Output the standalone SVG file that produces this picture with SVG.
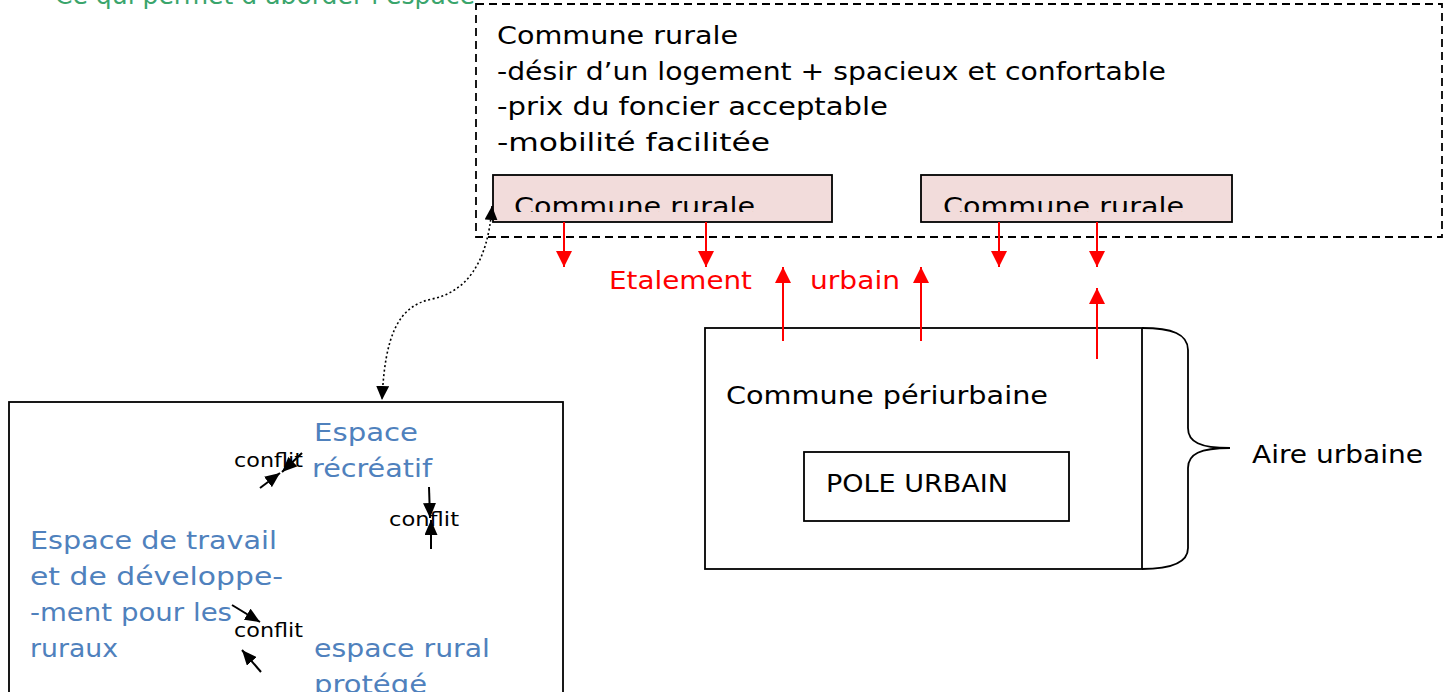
<svg xmlns="http://www.w3.org/2000/svg" width="1452" height="692" viewBox="0 0 1452 692">
  <style>
    text { font-family: "DejaVu Sans", "Liberation Sans", sans-serif; }
    .t { font-size: 25px; fill: #000; }
    .red { font-size: 25px; fill: #ff0000; }
    .blue { font-size: 25px; fill: #4f81bd; }
    .small { font-size: 19px; fill: #000; }
    .green { font-size: 25px; fill: #3aa56c; }
    .box { fill: #fff; stroke: #000; stroke-width: 1.8; }
    .pink { fill: #f2dcdb; stroke: #000; stroke-width: 1.8; }
    .dash { fill: none; stroke: #000; stroke-width: 1.8; stroke-dasharray: 8 5; }
    .rarrow { stroke: #ff0000; stroke-width: 2; fill: none; marker-end: url(#redHead); }
    .karrow { stroke: #000; stroke-width: 2; fill: none; marker-end: url(#blackHead); }
    .dotted { stroke: #000; stroke-width: 1.6; fill: none; stroke-dasharray: 2 2.5; marker-start: url(#dotStart); marker-end: url(#dotEnd); }
  </style>
  <defs>
    <marker id="redHead" viewBox="0 0 16 16" refX="16" refY="8" markerWidth="16" markerHeight="16" markerUnits="userSpaceOnUse" orient="auto">
      <path d="M0,0 L16,8 L0,16 z" fill="#ff0000"/>
    </marker>
    <marker id="blackHead" viewBox="0 0 15 13" refX="15" refY="6.5" markerWidth="15" markerHeight="13" markerUnits="userSpaceOnUse" orient="auto">
      <path d="M0,0 L15,6.5 L0,13 z" fill="#000"/>
    </marker>
    <marker id="dotEnd" viewBox="0 0 14 13" refX="14" refY="6.5" markerWidth="14" markerHeight="13" markerUnits="userSpaceOnUse" orient="auto">
      <path d="M0,0 L14,6.5 L0,13 z" fill="#000"/>
    </marker>
    <marker id="dotStart" viewBox="0 0 14 13" refX="0" refY="6.5" markerWidth="14" markerHeight="13" markerUnits="userSpaceOnUse" orient="auto">
      <path d="M14,0 L0,6.5 L14,13 z" fill="#000"/>
    </marker>
    <clipPath id="clipRural1"><rect x="494" y="176" width="337" height="36"/></clipPath>
    <clipPath id="clipRural2"><rect x="922" y="176" width="310" height="36"/></clipPath>
  </defs>

  <rect width="1452" height="692" fill="#fff"/>

  <!-- heading line running off the top edge -->
  <text class="green" x="55" y="4" textLength="420" lengthAdjust="spacingAndGlyphs">Ce qui permet d’aborder l’espace</text>

  <!-- rural commune frame -->
  <g id="rural-frame">
    <rect class="dash" x="476" y="4" width="966" height="233"/>
    <text class="t" x="497" y="44" textLength="241" lengthAdjust="spacingAndGlyphs">Commune rurale</text>
    <text class="t" x="497" y="80" textLength="669" lengthAdjust="spacingAndGlyphs">-désir d’un logement + spacieux et confortable</text>
    <text class="t" x="497" y="115" textLength="391" lengthAdjust="spacingAndGlyphs">-prix du foncier acceptable</text>
    <text class="t" x="497" y="151" textLength="273" lengthAdjust="spacingAndGlyphs">-mobilité facilitée</text>
  </g>

  <g id="rural-1">
    <rect class="pink" x="493" y="175" width="339" height="47"/>
    <text class="t" x="514" y="215" textLength="241" lengthAdjust="spacingAndGlyphs" clip-path="url(#clipRural1)">Commune rurale</text>
  </g>

  <g id="rural-2">
    <rect class="pink" x="921" y="175" width="311" height="47"/>
    <text class="t" x="943" y="215" textLength="241" lengthAdjust="spacingAndGlyphs" clip-path="url(#clipRural2)">Commune rurale</text>
  </g>

  <g id="sprawl-label">
    <text class="red" x="609" y="289" textLength="143" lengthAdjust="spacingAndGlyphs">Etalement</text>
    <text class="red" x="810" y="289" textLength="90" lengthAdjust="spacingAndGlyphs">urbain</text>
  </g>

  <g id="periurban">
    <rect class="box" x="705" y="328" width="437" height="241"/>
    <text class="t" x="726" y="404" textLength="322" lengthAdjust="spacingAndGlyphs">Commune périurbaine</text>
  </g>

  <g id="pole">
    <rect class="box" x="804" y="452" width="265" height="69"/>
    <text class="t" x="826" y="492" textLength="182" lengthAdjust="spacingAndGlyphs">POLE URBAIN</text>
  </g>

  <g id="aire-urbaine">
    <path d="M1142,328 C1172,328 1188,334 1188,350 L1188,428 C1188,442 1200,448 1230,448 C1200,448 1188,454 1188,468 L1188,548 C1188,562 1172,569 1142,569" fill="none" stroke="#000" stroke-width="1.8"/>
    <text class="t" x="1252" y="463" textLength="171" lengthAdjust="spacingAndGlyphs">Aire urbaine</text>
  </g>

  <g id="rural-space">
    <rect class="box" x="9" y="402" width="554" height="300"/>
    <text class="blue" x="314" y="441" textLength="104" lengthAdjust="spacingAndGlyphs">Espace</text>
    <text class="blue" x="312" y="477" textLength="120" lengthAdjust="spacingAndGlyphs">récréatif</text>
    <text class="blue" x="30" y="549" textLength="247" lengthAdjust="spacingAndGlyphs">Espace de travail</text>
    <text class="blue" x="30" y="585" textLength="253" lengthAdjust="spacingAndGlyphs">et de développe-</text>
    <text class="blue" x="30" y="621" textLength="202" lengthAdjust="spacingAndGlyphs">-ment pour les</text>
    <text class="blue" x="30" y="657" textLength="88" lengthAdjust="spacingAndGlyphs">ruraux</text>
    <text class="blue" x="314" y="657" textLength="176" lengthAdjust="spacingAndGlyphs">espace rural</text>
    <text class="blue" x="314" y="693" textLength="113" lengthAdjust="spacingAndGlyphs">protégé</text>
    <text class="small" x="234" y="467" textLength="69" lengthAdjust="spacingAndGlyphs">conflit</text>
    <text class="small" x="389" y="526" textLength="70" lengthAdjust="spacingAndGlyphs">conflit</text>
    <text class="small" x="234" y="637" textLength="69" lengthAdjust="spacingAndGlyphs">conflit</text>
  </g>

  <g id="connectors">
    <!-- spread arrows leaving the rural communes -->
    <line class="rarrow" x1="564" y1="222" x2="564" y2="267"/>
    <line class="rarrow" x1="706" y1="222" x2="706" y2="267"/>
    <line class="rarrow" x1="999" y1="222" x2="999" y2="267"/>
    <line class="rarrow" x1="1097" y1="222" x2="1097" y2="267"/>
    <!-- arrows rising from the periurban ring -->
    <line class="rarrow" x1="783" y1="341" x2="783" y2="267"/>
    <line class="rarrow" x1="921" y1="341" x2="921" y2="267"/>
    <line class="rarrow" x1="1097" y1="359" x2="1097" y2="288"/>

    <!-- link between the rural commune and its spaces -->
    <path class="dotted" d="M492,206 C488,265 465,292 432,299 C398,306 385,335 382,400"/>

    <!-- conflict arrows -->
    <line class="karrow" x1="302" y1="453" x2="282" y2="472"/>
    <line class="karrow" x1="260" y1="488" x2="280" y2="473"/>
    <line class="karrow" x1="429" y1="487" x2="430" y2="518"/>
    <line class="karrow" x1="431" y1="549" x2="431" y2="520"/>
    <line class="karrow" x1="232" y1="605" x2="260" y2="622"/>
    <line class="karrow" x1="261" y1="672" x2="242" y2="650"/>
  </g>
</svg>
